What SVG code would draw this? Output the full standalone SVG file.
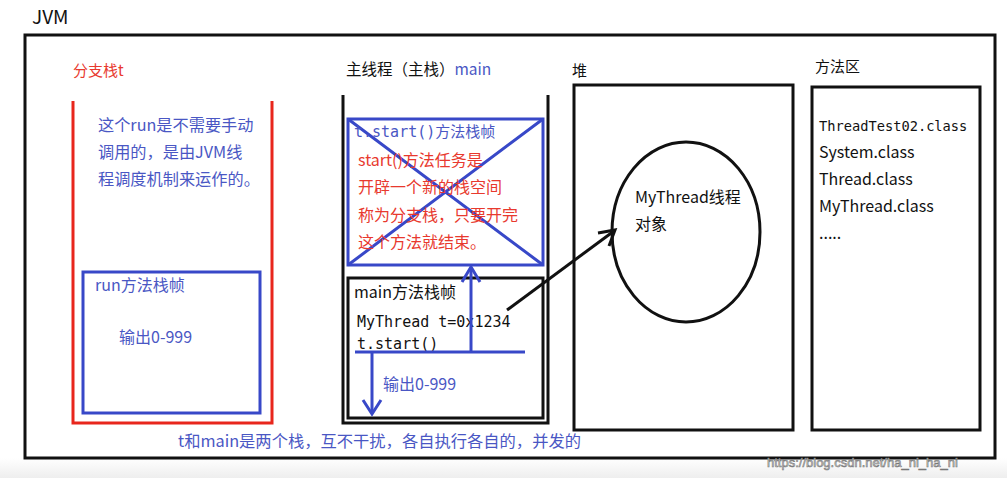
<svg xmlns="http://www.w3.org/2000/svg" width="1007" height="478" viewBox="0 0 1007 478">
<defs>
<style>
.t{font-family:"Microsoft YaHei","Noto Sans CJK SC","Liberation Sans",sans-serif;}
.m{font-family:"DejaVu Sans Mono","Liberation Mono","Noto Sans CJK SC",monospace;}
.blk{fill:#111;}
.red{fill:#e8392e;}
.blu{fill:#4a57c4;}
.bline{stroke:#3848c8;stroke-width:3;fill:none;}
.kline{stroke:#111;stroke-width:3;fill:none;}
.rline{stroke:#e8261c;stroke-width:3;fill:none;}
</style>
<linearGradient id="bg" x1="0" y1="0" x2="0" y2="1">
<stop offset="0" stop-color="#ffffff"/>
<stop offset="1" stop-color="#eeeeee"/>
</linearGradient>
</defs>
<rect x="0" y="0" width="1007" height="478" fill="#fff"/>
<rect x="0" y="458" width="1007" height="20" fill="url(#bg)"/>

<g id="jvm">
<text class="t blk" x="32" y="24" font-size="19">JVM</text>
<rect x="25" y="35" width="970" height="423" class="kline"/>
</g>

<g id="branch-stack">
<text class="t red" x="73" y="76" font-size="15">分支栈t</text>
<path d="M73 101 V423 H272 V101" class="rline"/>
<text class="t blu" font-size="16.2"><tspan x="98" y="131">这个run是不需要手动</tspan><tspan x="98" y="158">调用的，是由JVM线</tspan><tspan x="98" y="185">程调度机制来运作的。</tspan></text>
</g>

<g id="run-frame">
<rect x="83" y="272" width="177" height="141" class="bline"/>
<text class="t blu" x="95" y="291" font-size="16">run方法栈帧</text>
<text class="t blu" x="119" y="343" font-size="16">输出0-999</text>
</g>

<g id="main-stack">
<text class="t blk" x="346" y="75" font-size="15.5">主线程（主栈）<tspan class="blu">main</tspan></text>
<path d="M343 95 V423 H548 V95" class="kline"/>
</g>

<g id="start-frame">
<rect x="348" y="119" width="195" height="146" class="bline"/>
<path d="M348 119 L543 265 M543 119 L348 265" class="bline" stroke-width="2.5"/>
<text x="354" y="137" font-size="15" class="blu"><tspan class="m">t.start()</tspan><tspan class="t">方法栈帧</tspan></text>
<text class="t red" font-size="16"><tspan x="358" y="166">start()方法任务是</tspan><tspan x="358" y="193">开辟一个新的栈空间</tspan><tspan x="358" y="221">称为分支栈，只要开完</tspan><tspan x="358" y="248">这个方法就结束。</tspan></text>
</g>

<g id="main-frame">
<rect x="348" y="278" width="195" height="140" class="kline"/>
<text class="t blk" x="354" y="298" font-size="16">main方法栈帧</text>
<text class="m blk" x="357" y="327" font-size="15">MyThread t=0x1234</text>
<text class="m blk" x="357" y="349" font-size="15">t.start()</text>
<text class="t blu" x="383" y="390" font-size="16">输出0-999</text>
</g>

<g id="heap">
<text class="t blk" x="572" y="76" font-size="15">堆</text>
<rect x="574" y="85" width="219" height="345" class="kline"/>
</g>

<g id="thread-object">
<ellipse cx="686" cy="232" rx="74" ry="90" class="kline" stroke-width="2.5"/>
<text class="t blk" x="635" y="203" font-size="16">MyThread线程</text>
<text class="t blk" x="635" y="230" font-size="16">对象</text>
</g>

<g id="method-area">
<text class="t blk" x="815" y="72" font-size="15">方法区</text>
<rect x="812" y="87" width="168" height="343" class="kline"/>
<text class="m blk" x="819" y="131" font-size="13.7">ThreadTest02.class</text>
<text class="t blk" font-size="16"><tspan x="819" y="158">System.class</tspan><tspan x="819" y="185">Thread.class</tspan><tspan x="819" y="212">MyThread.class</tspan><tspan x="819" y="239">.....</tspan></text>
</g>

<g id="connectors">
<path d="M355 352 H525" class="bline"/>
<path d="M471 352 V268" class="bline"/>
<path d="M462 282 L471 267 L480 282" class="bline"/>
<path d="M372 352 V413" class="bline"/>
<path d="M363 400 L372 414 L381 400" class="bline"/>
<path d="M507 310 L614 231" class="kline" stroke-width="2.5"/>
<path d="M598 233 L615 230 L609 246" class="kline" stroke-width="2.5"/>
</g>

<g id="notes">
<text class="t blu" x="178" y="447" font-size="16.3">t和main是两个栈，互不干扰，各自执行各自的，并发的</text>
<text x="767" y="467" font-size="13" font-family="Liberation Sans, sans-serif" fill="#dddddd" stroke="#777" stroke-width="0.6">https://blog.csdn.net/ha_ni_ha_ni</text>
</g>
</svg>
